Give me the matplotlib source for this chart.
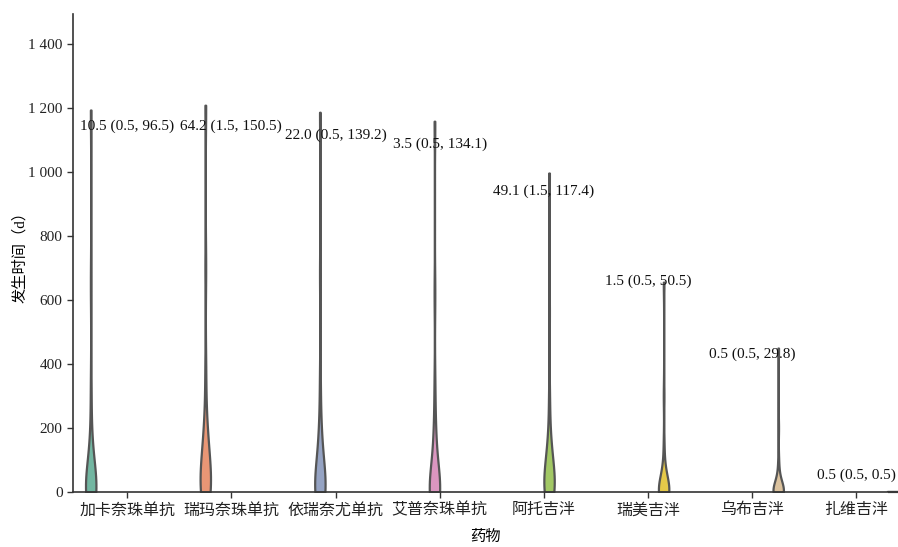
import matplotlib
matplotlib.use("Agg")
import matplotlib.pyplot as plt
import matplotlib.ticker as mticker
import seaborn as sns
import pandas as pd

plt.rcParams['font.family'] = ['Liberation Serif', 'Noto Sans CJK SC', 'DejaVu Sans']
plt.rcParams['font.size'] = 11
plt.rcParams['axes.unicode_minus'] = False

drugs = ["加卡奈珠单抗", "瑞玛奈珠单抗", "依瑞奈尤单抗", "艾普奈珠单抗",
         "阿托吉泮", "瑞美吉泮", "乌布吉泮", "扎维吉泮"]

# estimated observations (days) per drug
t_jiaka = [0.5, 0.5, 0.5, 0.5, 0.5, 0.5, 2, 4, 6, 8, 10.5, 15, 25, 40, 60, 96.5, 130, 180, 320, 650, 1194]
t_ruima = [0.5, 0.5, 1, 1.5, 1.5, 1.5, 5, 12, 25, 45, 64.2, 80, 100, 115, 130, 150.5, 190, 240, 380, 700, 1209]
t_yirui = [0.5, 0.5, 0.5, 0.5, 0.5, 0.5, 3, 6, 10, 15, 22.0, 35, 55, 80, 110, 139.2, 170, 220, 350, 680, 1187]
t_aipu = [0.5, 0.5, 0.5, 0.5, 0.5, 0.5, 1, 1.5, 2, 3, 3.5, 8, 20, 45, 90, 134.1, 160, 210, 330, 620, 1159]
t_atuo = [0.5, 0.5, 1, 1.5, 1.5, 1.5, 5, 12, 25, 38, 49.1, 60, 75, 90, 105, 117.4, 150, 200, 300, 560, 997]
t_ruimei = [0.5, 0.5, 0.5, 0.5, 0.5, 0.5, 0.5, 1, 1, 1.5, 1.5, 3, 8, 15, 30, 50.5, 60, 80, 150, 300, 656]
t_wubu = [0.5, 0.5, 0.5, 0.5, 0.5, 0.5, 0.5, 0.5, 0.5, 0.5, 0.5, 2, 5, 10, 20, 29.8, 40, 60, 100, 200, 450]
t_zawei = [0.5, 0.5, 0.5]
series = [t_jiaka, t_ruima, t_yirui, t_aipu, t_atuo, t_ruimei, t_wubu, t_zawei]

# median (P25, P75) labels and their heights
labels = ["10.5 (0.5, 96.5)", "64.2 (1.5, 150.5)", "22.0 (0.5, 139.2)", "3.5 (0.5, 134.1)",
          "49.1 (1.5, 117.4)", "1.5 (0.5, 50.5)", "0.5 (0.5, 29.8)", "0.5 (0.5, 0.5)"]
label_y = [1144, 1144, 1116, 1087, 941, 659, 431, 53]

yticks = [0, 200, 400, 600, 800, 1000, 1200, 1400]

rows = []
for d, vals in zip(drugs, series):
    for v in vals:
        rows.append({"药物": d, "时间": v})
df = pd.DataFrame(rows)

fig = plt.figure(figsize=(8.98, 5.47), dpi=100)
ax = fig.add_axes([0.0813, 0.1005, 0.9187, 0.8739])

palette = sns.color_palette("Set2", len(drugs))
sns.violinplot(data=df, x="药物", y="时间", hue="药物", order=drugs, hue_order=drugs,
               dodge=True, palette=palette, inner=None, cut=0, density_norm="width",
               bw_adjust=0.5, linewidth=1.6, linecolor="#555555", legend=False, ax=ax)

# singular-valued group: seaborn draws nothing, show it as a flat line in its dodge slot
n = len(drugs)
slot = 0.8 / n
k = n - 1
off = -0.4 + slot * (k + 0.5)
zv = max(series[k])
ax.plot([k + off - slot / 2, k + off + slot / 2], [zv, zv], color="#555555", lw=1.6,
        solid_capstyle="butt", clip_on=False)

for i, (lab, yy) in enumerate(zip(labels, label_y)):
    ax.text(i, yy, lab, ha="center", va="center", fontsize=11, color="#111111")

ax.set_ylim(0, 1494)
ax.set_xlim(-0.52, 7.40)
ax.set_yticks(yticks)
ax.yaxis.set_major_formatter(mticker.FuncFormatter(lambda v, p: f"{int(v):,}".replace(",", " ")))
ax.set_xlabel("药物", fontsize=11, labelpad=8)
ax.set_ylabel("发生时间（d）", fontsize=11, labelpad=1)
ax.spines["top"].set_visible(False)
ax.spines["right"].set_visible(False)
for s in ("left", "bottom"):
    ax.spines[s].set_color("#333333")
    ax.spines[s].set_linewidth(1.2)
ax.tick_params(axis="both", direction="out", length=4, width=1, colors="#333333", labelsize=11, labelcolor="#222222")
ax.tick_params(axis="x", labelsize=11.5)

fig.savefig("out.png", dpi=100)
